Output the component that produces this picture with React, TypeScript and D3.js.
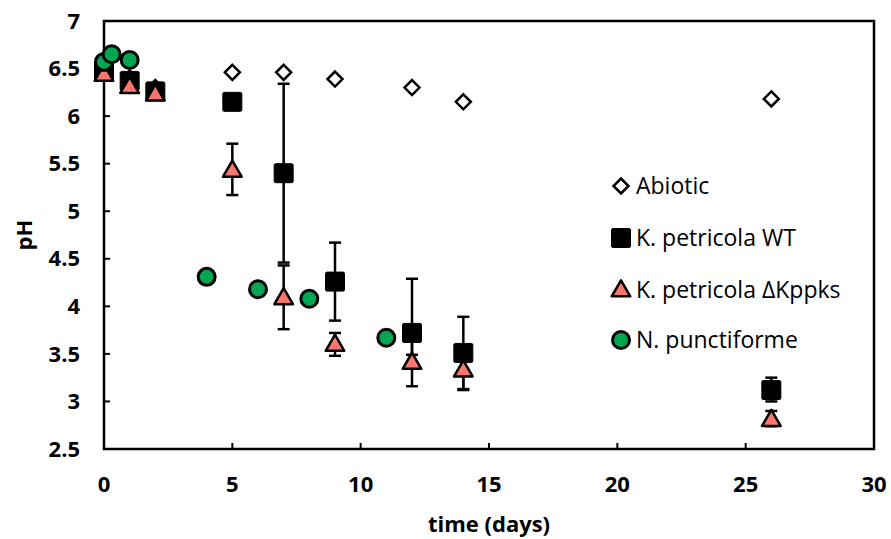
import React from "react";
import * as d3 from "d3";

const xTicks = [0, 5, 10, 15, 20, 25, 30];
const yTicks = [2.5, 3, 3.5, 4, 4.5, 5, 5.5, 6, 6.5, 7];

const abioticDays = [0, 1, 2, 5, 7, 9, 12, 14, 26];
const abioticPH = [6.5, 6.4, 6.3, 6.46, 6.46, 6.39, 6.3, 6.15, 6.18];

const wtDays = [0, 1, 2, 5, 7, 9, 12, 14, 26];
const wtPH = [6.48, 6.37, 6.26, 6.15, 5.4, 4.26, 3.72, 3.51, 3.12];
const wtLo = [null, null, null, null, 4.46, 3.85, 3.49, 3.13, 3.0];
const wtHi = [null, null, null, null, 6.34, 4.67, 4.29, 3.89, 3.25];

const kpDays = [0, 1, 2, 5, 7, 9, 12, 14, 26];
const kpPH = [6.44, 6.31, 6.23, 5.43, 4.09, 3.6, 3.41, 3.33, 2.81];
const kpLo = [null, null, null, 5.17, 3.76, 3.48, 3.16, 3.12, 2.74];
const kpHi = [null, null, null, 5.71, 4.43, 3.72, 3.66, 3.5, 2.9];

const npDays = [0, 0.3, 1, 4, 6, 8, 11];
const npPH = [6.57, 6.65, 6.59, 4.31, 4.18, 4.08, 3.67];
const npLo = [null, null, null, null, null, null, 3.62];
const npHi = [null, null, null, null, null, null, 3.72];

const legendLabels = ["Abiotic", "K. petricola WT", "K. petricola \u0394Kppks", "N. punctiforme"];

const W = 891, H = 539;
const L = 104, R = 874, T = 21, B = 449;
const FONT = "'Open Sans', Lato, sans-serif";

const x = d3.scaleLinear().domain([0, 30]).range([L, R]);
const y = d3.scaleLinear().domain([2.5, 7]).range([B, T]);

const tri = d3.symbol().type(d3.symbolTriangle).size(150)();

function Marker({ kind, cx, cy }: { kind: string; cx: number; cy: number }) {
  if (kind === "diamond") {
    const s = 7.5;
    return (
      <path d={`M${cx},${cy - s}L${cx + s},${cy}L${cx},${cy + s}L${cx - s},${cy}Z`} fill="#fff" stroke="#000" strokeWidth={2.5} />
    );
  }
  if (kind === "square") {
    const s = 9.5;
    return <rect x={cx - s} y={cy - s} width={2 * s} height={2 * s} rx={1.5} fill="#000" stroke="#000" strokeWidth={1} />;
  }
  if (kind === "triangle") {
    return <path d={tri as string} transform={`translate(${cx},${cy + 1})`} fill="#F8766D" stroke="#000" strokeWidth={2.5} strokeLinejoin="round" />;
  }
  return <circle cx={cx} cy={cy} r={8.5} fill="#00A651" stroke="#000" strokeWidth={3} />;
}

function ErrBars({ days, lo, hi }: { days: number[]; lo: (number | null)[]; hi: (number | null)[] }) {
  return (
    <g stroke="#000" strokeWidth={2.5}>
      {days.map((d, i) => {
        const l = lo[i], h = hi[i];
        if (l == null || h == null) return null;
        const cx = x(d);
        return (
          <g key={i}>
            <line x1={cx} x2={cx} y1={y(l)} y2={y(h)} />
            <line x1={cx - 6} x2={cx + 6} y1={y(l)} y2={y(l)} />
            <line x1={cx - 6} x2={cx + 6} y1={y(h)} y2={y(h)} />
          </g>
        );
      })}
    </g>
  );
}

export default function App() {
  const legendKinds = ["diamond", "square", "triangle", "circle"];
  const legendY = [186, 238, 290, 340];
  return (
    <svg width={W} height={H} style={{ position: "absolute", left: 0, top: 0, background: "#fff" }}>
      <rect x={0} y={0} width={W} height={H} fill="#fff" />
      <g stroke="#000" strokeWidth={2}>
        {yTicks.map((t) => (
          <line key={t} x1={L} x2={L + 6} y1={y(t)} y2={y(t)} />
        ))}
        {xTicks.map((t) => (
          <line key={t} x1={x(t)} x2={x(t)} y1={B} y2={B - 6} />
        ))}
      </g>
      <rect x={L} y={T} width={R - L} height={B - T} fill="none" stroke="#000" strokeWidth={2.5} />
      <g fontFamily={FONT} fontWeight="bold" fontSize={22} fill="#000">
        {yTicks.map((t) => (
          <text key={t} x={L - 24} y={y(t)} dy="0.35em" textAnchor="end">
            {d3.format("")(t)}
          </text>
        ))}
        {xTicks.map((t) => (
          <text key={t} x={x(t)} y={492} textAnchor="middle">
            {t}
          </text>
        ))}
        <text x={(L + R) / 2} y={532} textAnchor="middle">time (days)</text>
        <text transform={`translate(24,${(T + B) / 2}) rotate(-90)`} dy="0.35em" textAnchor="middle">pH</text>
      </g>
      <ErrBars days={wtDays} lo={wtLo} hi={wtHi} />
      <ErrBars days={kpDays} lo={kpLo} hi={kpHi} />
      <ErrBars days={npDays} lo={npLo} hi={npHi} />
      {abioticDays.map((d, i) => (
        <Marker key={"a" + i} kind="diamond" cx={x(d)} cy={y(abioticPH[i])} />
      ))}
      {wtDays.map((d, i) => (
        <Marker key={"w" + i} kind="square" cx={x(d)} cy={y(wtPH[i])} />
      ))}
      {kpDays.map((d, i) => (
        <Marker key={"k" + i} kind="triangle" cx={x(d)} cy={y(kpPH[i])} />
      ))}
      {npDays.map((d, i) => (
        <Marker key={"n" + i} kind="circle" cx={x(d)} cy={y(npPH[i])} />
      ))}
      <g fontFamily={FONT} fontSize={23} fill="#000">
        {legendLabels.map((lab, i) => (
          <g key={lab}>
            <Marker kind={legendKinds[i]} cx={621} cy={legendY[i]} />
            <text x={636} y={legendY[i]} dy="0.35em">{lab}</text>
          </g>
        ))}
      </g>
    </svg>
  );
}
